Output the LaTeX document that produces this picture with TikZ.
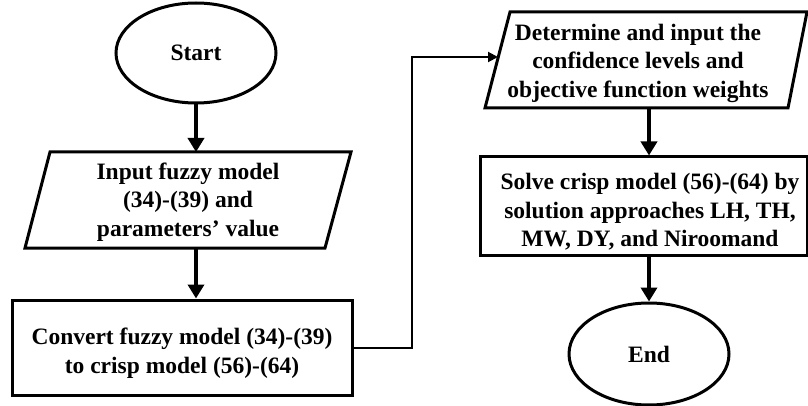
\documentclass[tikz,border=0pt]{standalone}
\usepackage{fontspec}
\setmainfont{Liberation Serif}
\usetikzlibrary{arrows.meta,shapes.geometric}
\begin{document}
\begin{tikzpicture}[x=1pt,y=-1pt,
  txt/.style={font=\fontsize{23.5}{28.5}\selectfont\bfseries, align=center, inner sep=0pt},
  shapeline/.style={line width=3pt, line join=miter},
  term/.style={draw, ellipse, shapeline, minimum width=160pt, minimum height=100pt, inner sep=0pt, txt},
  procbox/.style={draw, rectangle, shapeline, inner sep=0pt},
  flow/.style={line width=3.8pt, -{Triangle[width=16pt,length=14pt]}},
  thinflow/.style={line width=2pt, -{Triangle[width=10pt,length=10pt]}}]
\useasboundingbox (0,0) rectangle (808,406);

% Start
\node[term] (start) at (196,53) {Start};

% Input parallelogram
\draw[shapeline] (50,152) -- (351,152) -- (325,248) -- (25,248) -- cycle;
\node[txt] (input) at (188,202) {Input fuzzy model\\(34)-(39) and\\parameters' value};
\coordinate (p1top) at (196,152);
\coordinate (p1bot) at (196,248);

% Convert box
\node[procbox, minimum width=340pt, minimum height=95pt] (conv) at (182,347.5) {};
\node[txt] (convtxt) at (182,353) {Convert fuzzy model (34)-(39)\\to crisp model (56)-(64)};

% Determine parallelogram
\draw[shapeline] (510,12) -- (807,12) -- (788,108) -- (485,108) -- cycle;
\node[txt] (det) at (638,63) {Determine and input the\\confidence levels and\\objective function weights};
\coordinate (p2left) at (498,57);
\coordinate (p2bot) at (649,108);
\coordinate (fbbot) at (412,347.5);
\coordinate (fbtop) at (412,57);

% Solve box
\node[procbox, minimum width=327pt, minimum height=98pt] (solve) at (643.5,206) {};
\node[txt] (solvetxt) at (650,212) {Solve crisp model (56)-(64) by\\solution approaches LH, TH,\\MW, DY, and Niroomand};

% End
\node[term, minimum height=102pt] (end) at (649,354) {End};

% connectors
\draw[flow] (start.south) -- (p1top);
\draw[flow] (p1bot) -- (p1bot |- conv.north);
\draw[thinflow] (conv.east) -- (fbbot) -- (fbtop) -- (p2left);
\draw[flow] (p2bot) -- (p2bot |- solve.north);
\draw[flow] (solve.south -| end.north) -- (end.north);
\end{tikzpicture}
\end{document}
